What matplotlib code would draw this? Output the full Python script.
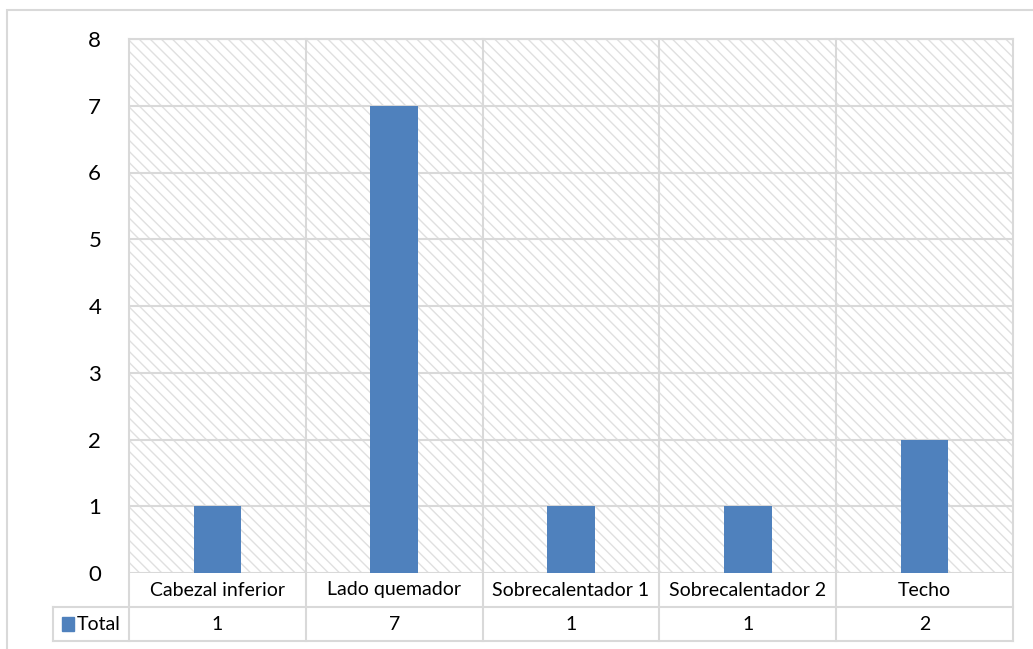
import matplotlib
matplotlib.use("Agg")
import matplotlib.pyplot as plt
from matplotlib.patches import Rectangle
from matplotlib.transforms import blended_transform_factory

categories = ["Cabezal inferior", "Lado quemador", "Sobrecalentador 1",
              "Sobrecalentador 2", "Techo"]
totals = [1, 7, 1, 1, 2]
series_name = "Total"
y_ticks = [0, 1, 2, 3, 4, 5, 6, 7, 8]

plt.rcParams["font.family"] = ["Lato", "DejaVu Sans"]
plt.rcParams["hatch.linewidth"] = 1.0

W, H = 1033, 649
fig = plt.figure(figsize=(W / 100, H / 100), dpi=100)
fig.patch.set_facecolor("white")

left, right, top, bottom = 129, 1013, 39, 573
ax = fig.add_axes([left / W, 1 - bottom / H, (right - left) / W, (bottom - top) / H])

grid_c = "#d9d9d9"
bar_c = "#4f81bd"
text_fs = 14
n = len(categories)
xs = list(range(n))

ax.set_xlim(-0.5, n - 0.5)
ax.set_ylim(y_ticks[0], y_ticks[-1])

# patterned plot-area background
ax.add_patch(Rectangle((0, 0), 1, 1, transform=ax.transAxes, facecolor="white",
                       edgecolor="#e0e0e0", hatch="\\\\\\", linewidth=0, zorder=0))

for y in y_ticks:
    ax.axhline(y, color=grid_c, lw=1.5, zorder=1)

ax.bar(xs, totals, width=0.27, color=bar_c, zorder=3)

ax.set_yticks(y_ticks)
ax.set_yticklabels([str(v) for v in y_ticks], fontsize=16)
ax.tick_params(axis="y", length=0, pad=20)
ax.set_xticks([])
for s in ax.spines.values():
    s.set_visible(False)

# data table beneath the plot
tr = blended_transform_factory(ax.transData, ax.transAxes)
ph = bottom - top
row1 = -(607 - bottom) / ph
row2 = -(641 - bottom) / ph
leg_left = (53 - left) / (right - left)

line_kw = dict(color=grid_c, lw=1.5, clip_on=False, zorder=2)
for b in [i - 0.5 for i in range(n + 1)]:
    ax.plot([b, b], [row2, 1], transform=tr, **line_kw)
ax.plot([-0.5, n - 0.5], [1, 1], transform=tr, **line_kw)
ax.plot([leg_left, 1], [row1, row1], transform=ax.transAxes, **line_kw)
ax.plot([leg_left, 1], [row2, row2], transform=ax.transAxes, **line_kw)
ax.plot([leg_left, leg_left], [row1, row2], transform=ax.transAxes, **line_kw)

for x, c, v in zip(xs, categories, totals):
    ax.text(x, row1 / 2, c, transform=tr, ha="center", va="center", fontsize=text_fs)
    ax.text(x, (row1 + row2) / 2, str(v), transform=tr, ha="center", va="center",
            fontsize=text_fs)

# legend key inside the table
key_x = (62 - left) / (right - left)
ax.add_patch(Rectangle((key_x, (row1 + row2) / 2 - 0.013), 12 / (right - left), 0.026,
                       transform=ax.transAxes, color=bar_c, clip_on=False))
ax.text((77 - left) / (right - left), (row1 + row2) / 2, series_name,
        transform=ax.transAxes, ha="left", va="center", fontsize=text_fs)

# outer chart frame (top and left edges visible)
fig.add_artist(Rectangle((7 / W, -0.2), 2, 1.2 - 10 / H, transform=fig.transFigure,
                         fill=False, edgecolor=grid_c, lw=1.5))

fig.savefig("out.png", dpi=100)
